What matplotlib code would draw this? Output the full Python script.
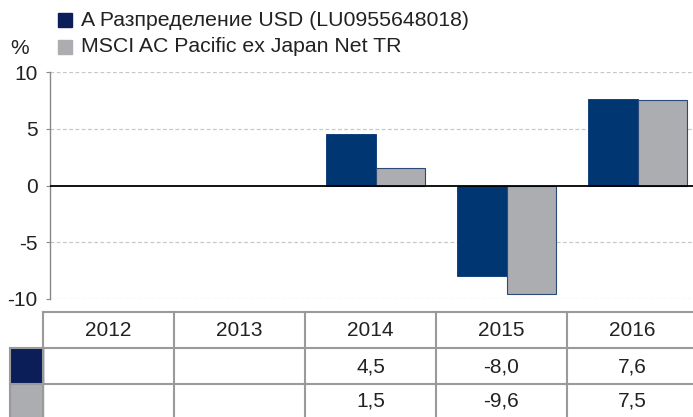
import numpy as np
import matplotlib
matplotlib.use("Agg")
import matplotlib.pyplot as plt
from matplotlib.patches import Rectangle

years = ["2012", "2013", "2014", "2015", "2016"]
fund = [np.nan, np.nan, 4.5, -8.0, 7.6]
bench = [np.nan, np.nan, 1.5, -9.6, 7.5]
fund_label = "A Разпределение USD (LU0955648018)"
bench_label = "MSCI AC Pacific ex Japan Net TR"
yticks = [10, 5, 0, -5, -10]

NAVY = "#003671"
NAVY_DARK = "#0b1e58"
GREY = "#abadb1"
TXT = "#222222"
FS = 15

W, H = 693, 417
fig = plt.figure(figsize=(W / 100, H / 100), dpi=100)
plt.rcParams['font.family'] = ['Liberation Sans', 'DejaVu Sans']

# main axes (pixel geometry)
ax_l, ax_r, ax_top, ax_bot = 50, 693, 72, 299
ax = fig.add_axes([ax_l / W, 1 - ax_bot / H, (ax_r - ax_l) / W, (ax_bot - ax_top) / H])
cw = 131
x = np.arange(len(years))
ax.set_xlim(-0.5 + 2 / cw, -0.5 + (ax_r - ax_l + 2) / cw)
ax.set_ylim(-10, 10)
bw = 0.38
ax.bar(x - bw / 2, fund, width=bw, color=NAVY, edgecolor=NAVY, linewidth=0.6, zorder=3)
ax.bar(x + bw / 2, bench, width=bw, color=GREY, edgecolor="#2a4a7a", linewidth=0.8, zorder=3)
for v in yticks:
    if v != 0:
        ax.axhline(v, color="#c8c8c8", lw=0.9, ls=(0, (3, 2)), zorder=1)
ax.axhline(0, color="black", lw=1.3, zorder=4)
for s in ["top", "right", "bottom"]:
    ax.spines[s].set_visible(False)
ax.spines["left"].set_color("#888888")
ax.spines["left"].set_linewidth(1.0)
ax.set_xticks([])
ax.set_yticks(yticks)
ax.set_yticklabels([str(v) for v in yticks], fontsize=FS, color=TXT)
ax.tick_params(axis="y", length=3, color="#888888", pad=6)

# legend + % label
fig.text(20 / W, 1 - 48 / H, "%", fontsize=FS, color=TXT, ha="center", va="center")
for i, (lab, col) in enumerate([(fund_label, NAVY_DARK), (bench_label, GREY)]):
    yc = 20 + i * 27
    fig.patches.append(Rectangle((58 / W, 1 - (yc + 7) / H), 14 / W, 14 / H,
                                 transform=fig.transFigure, color=col))
    fig.text(81 / W, 1 - yc / H, lab, fontsize=15.3, color=TXT, va="center", ha="left")

# table axes in pixel coordinates
tax = fig.add_axes([0, 0, 1, 1 - 300 / H])
tax.set_xlim(0, W)
tax.set_ylim(H, 300)
tax.axis("off")
x0 = 43
rows = [312, 348, 384, 420]
lc = "#9a9a9a"
tax.plot([x0, W], [rows[0], rows[0]], color=lc, lw=1.5)
for r in rows[1:3]:
    tax.plot([10, W], [r, r], color=lc, lw=1.5)
for i in range(len(years) + 1):
    xc = x0 + i * cw
    if xc <= W:
        tax.plot([xc, xc], [rows[0], H], color=lc, lw=1.5)
tax.plot([10, 10], [rows[1], H], color=lc, lw=1.5)
tax.add_patch(Rectangle((10, rows[1]), x0 - 10, rows[2] - rows[1], color=NAVY_DARK, zorder=0))
tax.add_patch(Rectangle((10, rows[2]), x0 - 10, rows[3] - rows[2], color=GREY, zorder=0))

def fmt(v):
    return "" if np.isnan(v) else f"{v:.1f}".replace(".", ",")

for i, yr in enumerate(years):
    xc = x0 + (i + 0.5) * cw
    tax.text(xc, (rows[0] + rows[1]) / 2 + 1, yr, fontsize=FS, color=TXT, ha="center", va="center")
    tax.text(xc, (rows[1] + rows[2]) / 2 + 1, fmt(fund[i]), fontsize=FS, color=TXT, ha="center", va="center")
    tax.text(xc, (rows[2] + rows[3]) / 2 - 1, fmt(bench[i]), fontsize=FS, color=TXT, ha="center", va="center")

fig.savefig("out.png", dpi=100)
